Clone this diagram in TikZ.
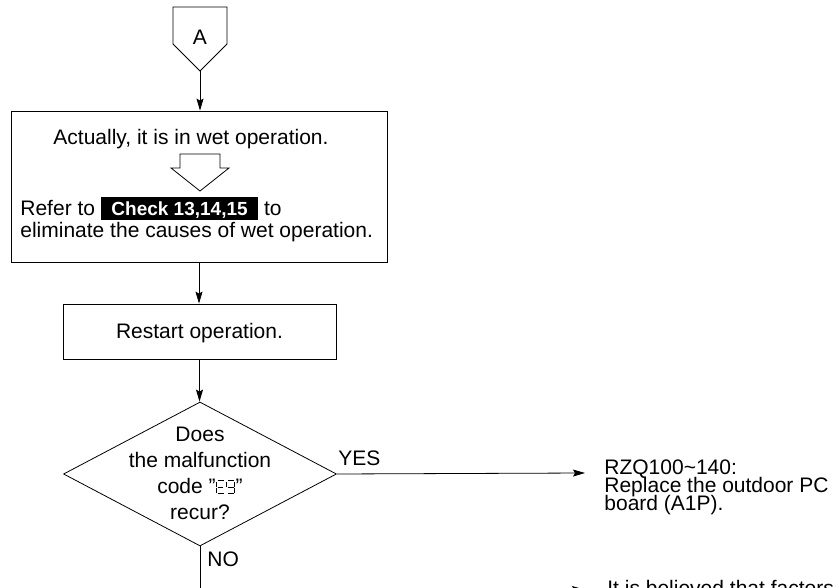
\documentclass[tikz,border=0pt]{standalone}
\usepackage{fontspec}
\setmainfont{Liberation Sans}
\usetikzlibrary{arrows.meta,shapes.geometric,positioning}

% seven segment "E9" as shown on the unit display
\newcommand{\codeEnine}{\tikz[x=1pt,y=1pt,baseline=0pt,line width=1pt]{%
    \draw (1,13) -- (7.5,13) (0,12) -- (0,7) (1,6.5) -- (6.5,6.5) (0,6) -- (0,1) (1,0) -- (7.5,0);
    \draw (11,13) -- (17,13) (10,12) -- (10,7) (18,12) -- (18,7) (11,6.5) -- (17,6.5)
          (18,6) -- (18,1) (11,0) -- (17,0);}}
\newcommand{\checkbox}[1]{{\setlength{\fboxsep}{1pt}\colorbox{black}{\hspace{9.5pt}\rule[-3.5pt]{0pt}{21.5pt}%
    \textcolor{white}{\fontsize{19}{22}\selectfont\bfseries #1}\hspace{9.5pt}}}}
\newcommand{\tightlines}{\fontsize{21}{18}\selectfont\setlength{\lineskiplimit}{-20pt}}

\begin{document}
\begin{tikzpicture}[x=1pt, y=-1pt, line width=0.8pt,
    font=\fontsize{21}{22}\selectfont,
    box/.style={draw, rectangle, inner sep=0pt},
    arr/.style={-{Stealth[length=12pt,width=7pt,inset=2pt]}},
    txt/.style={inner sep=0pt, anchor=base west}]
    \useasboundingbox (0,0) rectangle (839,588);
    \clip (0,0) rectangle (839,588);

    % off-page connector
    \node[inner sep=0pt, text height=15pt, text depth=0pt] (conn) at (200,37) {A};
    \draw (173,7) -- (227,7) -- (227,44) -- (200,71) -- (173,44) -- cycle;
    \coordinate (conntip) at (200,71);

    % wet operation box
    \node[box, minimum width=376pt, minimum height=151pt] (wetbox) at (199,186.5) {};
    \node[inner sep=0pt, anchor=base] (wet) at (191,145) {Actually, it is in wet operation.};
    \draw (180,154) -- (220,154) -- (220,168) -- (229,168) -- (200,191) -- (171,168) -- (180,168) -- cycle;
    \node[txt] (refer) at (20,216) {Refer to \checkbox{Check 13,14,15} to};
    \node[txt] (elim) at (20,238) {eliminate the causes of wet operation.};

    \node[box, minimum width=273pt, minimum height=55pt, text height=15pt, text depth=0pt] (restart) at (199.5,331.5) {Restart operation.};

    % decision
    \node[draw, diamond, inner sep=0pt, minimum width=273pt, minimum height=144pt] (recur) at (200,474) {};
    \node[inner sep=0pt, anchor=north, align=center, font=\fontsize{21}{26}\selectfont] (question) at (200,427)
        {Does\\the malfunction\\code "\hspace{0.5pt}\codeEnine\hspace{0.5pt}"\\recur?};
    \node[txt] (yes) at (338,465) {YES};
    \node[txt] (no) at (207,566) {NO};

    \coordinate (yesend) at (585,473);
    \coordinate (noend) at (584,589.5);
    \node[inner sep=0pt, anchor=north west, align=left, font=\tightlines] (replace) at (604,459.8)
        {RZQ100\textasciitilde 140:\\Replace the outdoor PC\\board (A1P).};
    \node[txt] (factor) at (607,595.5) {It is believed that factors};

    \draw[arr] (conntip) -- (conntip |- wetbox.north);
    \draw[arr] (wetbox.south) -- (wetbox.south |- restart.north);
    \draw[arr] (restart.south) -- (restart.south |- recur.north);
    \draw[arr] (recur.east) -- (yesend);
    \draw[arr] (recur.south) |- (noend);
\end{tikzpicture}
\end{document}
